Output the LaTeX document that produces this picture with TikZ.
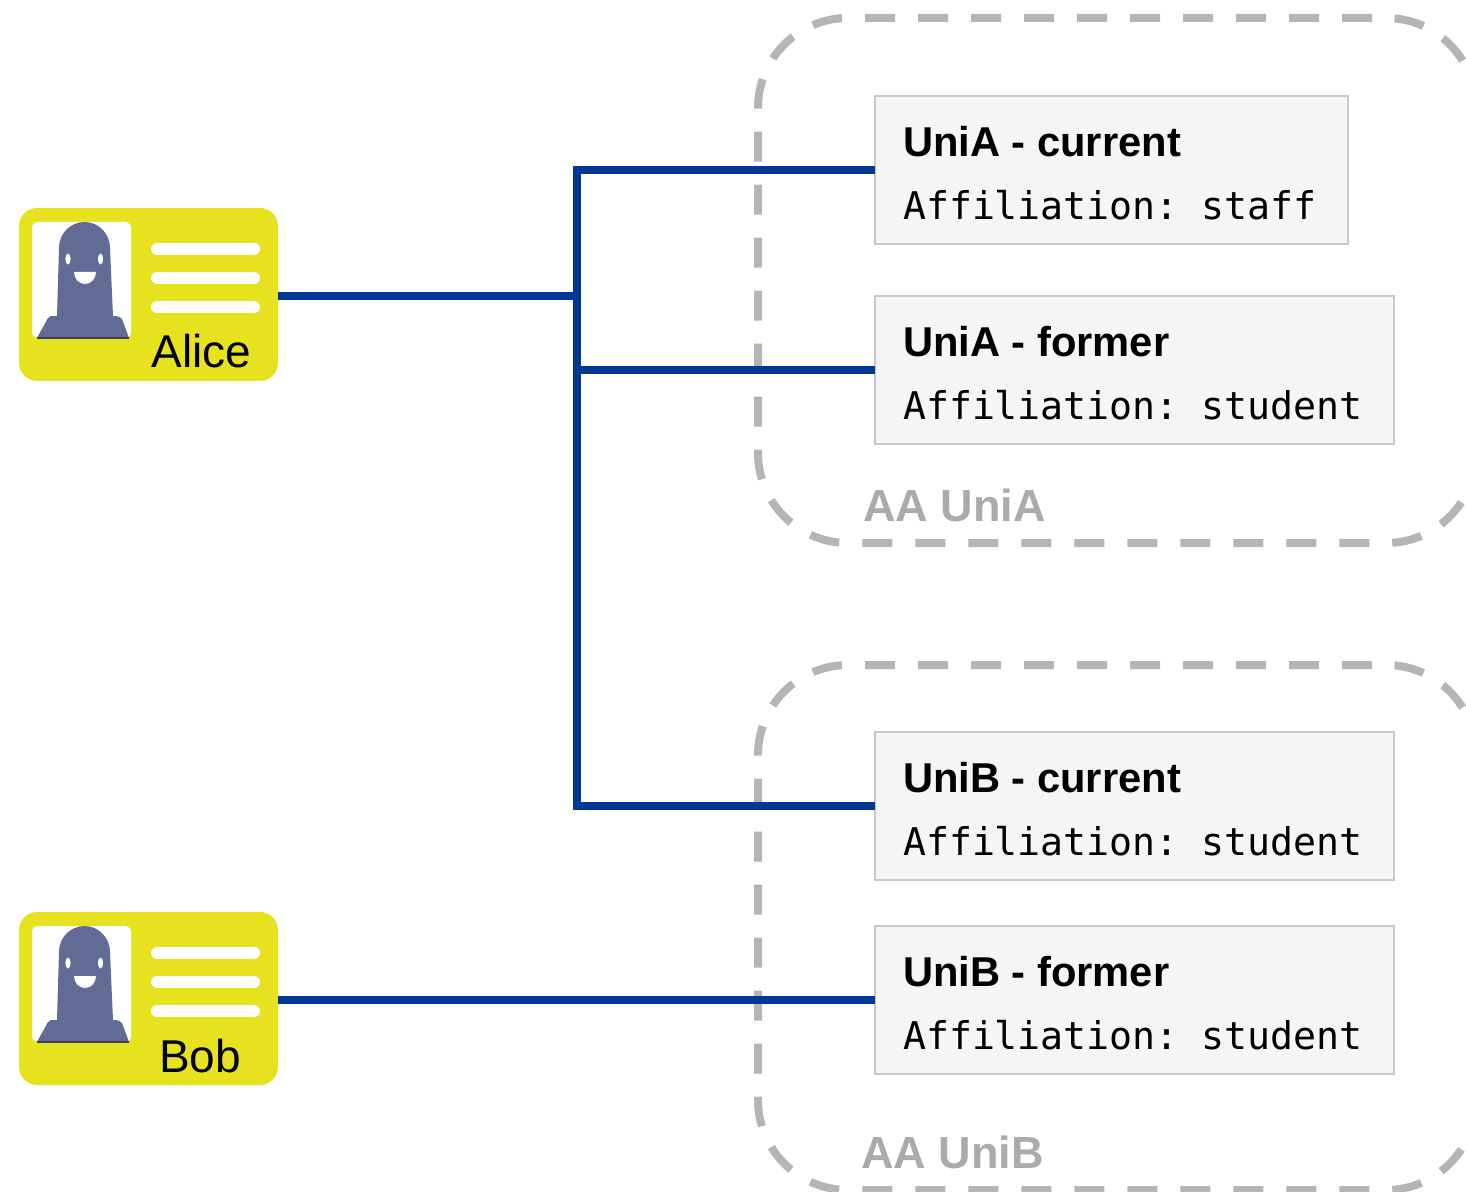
\documentclass[tikz,border=0pt]{standalone}
\usepackage{fontspec}
\setmainfont{Liberation Sans}
\setmonofont{DejaVu Sans Mono}
\definecolor{wireblue}{HTML}{003894}
\definecolor{cardyellow}{HTML}{E6E220}
\definecolor{facepurple}{HTML}{616B96}
\definecolor{aagray}{HTML}{B5B5B5}
\definecolor{aatext}{HTML}{ABABAB}
\definecolor{boxfill}{HTML}{F5F5F5}
\definecolor{boxline}{HTML}{C8C8C8}
\tikzset{
  wire/.style = {draw=wireblue, line width=3.6pt},
  aa_region/.style = {draw=aagray, line width=4pt, rounded corners=45pt, inner sep=0pt,
    minimum width=359pt, minimum height=262.5pt, dash pattern=on 15pt off 11.5pt, dash phase=19.5pt},
  aa_label/.style = {anchor=base west, inner sep=0pt, text=aatext, font=\fontsize{22.5}{26}\selectfont\bfseries},
  aff_box/.style = {anchor=north west, draw=boxline, fill=boxfill, line width=0.7pt, align=flush left,
    inner xsep=14pt, inner ysep=0pt, outer sep=0pt, minimum height=74pt},
  card_box/.style = {fill=cardyellow, rounded corners=9pt, inner sep=0pt, outer sep=0pt, minimum width=129.5pt, minimum height=86.5pt},
  card_name/.style = {anchor=base, inner sep=0pt, font=\fontsize{23}{26}\selectfont},
  card_line/.style = {draw=white, line width=6pt, line cap=round},
}
\newcommand{\head}[1]{{\fontsize{20.85}{31.5}\selectfont\bfseries\rule{0pt}{18.2pt}#1\par}}
\newcommand{\code}[1]{{\fontsize{19.1}{31.5}\selectfont\ttfamily #1\par}}
\newcommand{\idcard}[4]{
  \node [card_box] (#1) at (148.5,#2+86.5) {};
  \begin{scope}[shift={(19,#2)}]
    \fill [white, rounded corners=3pt] (13,14) rectangle (112,130);
    \fill [facepurple] (18,130) -- (29,110) .. controls (31,108) .. (38,108) -- (40,40)
      arc[start angle=180, end angle=360, x radius=25.5, y radius=26] -- (94,108)
      .. controls (100,108) and (101,109) .. (103,111) -- (110,130) -- cycle;
    \draw [facepurple!60!black, line width=0.6pt] (18,130) -- (110,130);
    \fill [white] (49,51) ellipse (2.6 and 5.5);
    \fill [white] (81.5,51) ellipse (2.6 and 5.5);
    \fill [white] (55,64) -- (77,64) arc[start angle=0, end angle=180, x radius=11, y radius=12] -- cycle;
    \foreach \ly in {41,70,99} {
      \draw [card_line] (138,\ly) -- (235,\ly);
    }
  \end{scope}
  \node [card_name] (#1name) at (#3,#2+160) {#4};
}

\begin{document}
\begin{tikzpicture}[x=0.5pt, y=-0.5pt]
  \useasboundingbox (0,0) rectangle (1466,1192);

  \node [aa_region] (regiona) at (1117,280.5) {};
  \node [aa_region] (regionb) at (1117,927.5) {};
  \node [aa_label] (labela) at (863,521) {AA UniA};
  \node [aa_label] (labelb) at (861,1168) {AA UniB};

  \idcard{alice}{208}{201.5}{Alice}
  \idcard{bob}{912}{200}{Bob}

  \node [aff_box, text width=208.5pt] (uniacur) at (875,96) {\head{UniA - current}\code{Affiliation: staff}};
  \node [aff_box, text width=231.5pt] (uniaold) at (875,296) {\head{UniA - former}\code{Affiliation: student}};
  \node [aff_box, text width=231.5pt] (unibcur) at (875,732) {\head{UniB - current}\code{Affiliation: student}};
  \node [aff_box, text width=231.5pt] (unibold) at (875,926) {\head{UniB - former}\code{Affiliation: student}};

  \coordinate (hub) at (577,296);
  \draw [wire] (alice.east |- hub) -- (hub);
  \draw [wire] (hub) |- (uniacur.west);
  \draw [wire] (hub) |- (uniaold.west);
  \draw [wire] (hub) |- (unibcur.west);
  \draw [wire] (bob.east |- unibold.west) -- (unibold.west);
\end{tikzpicture}
\end{document}
